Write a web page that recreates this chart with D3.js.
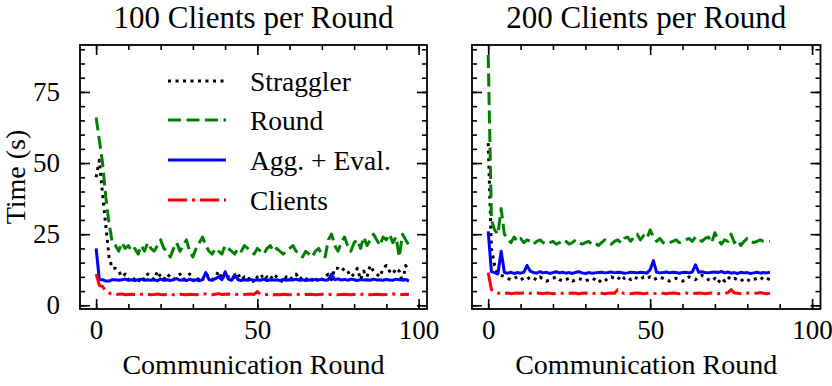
<!DOCTYPE html>
<html>
<head>
<meta charset="utf-8">
<script src="https://cdn.jsdelivr.net/npm/d3@7"></script>
<style>
  body { margin: 0; background: #fff; }
  svg { font-family: "Liberation Serif", "DejaVu Serif", serif; }
</style>
</head>
<body>
<svg id="chart" width="832" height="386"></svg>
<script>
// ---- data ----
const panelTitles = ["100 Clients per Round", "200 Clients per Round"];
const seriesNames = ["Straggler", "Round", "Agg. + Eval.", "Clients"];
const xTicks = [0, 50, 100];
const yTicks = [0, 25, 50, 75];

// 100 clients per round (rounds 0..97)
const straggler100 = [45, 51, 39, 28, 17, 13,
  13, 12, 10, 11, 9, 10, 9, 8, 10, 9,
  11, 10, 9, 12, 10, 9, 11, 10, 9, 10,
  11, 9, 10, 11, 9, 8, 10, 9, 11, 10,
  9, 10, 12, 9, 11, 10, 9, 10, 11, 9,
  10, 9, 10, 8, 10, 11, 9, 10, 9, 11,
  10, 9, 8, 10, 9, 10, 11, 9, 10, 9,
  10, 9, 8, 10, 9, 10, 11, 9, 13, 13,
  12, 13, 12, 10, 11, 13, 9, 12, 10, 14,
  12, 11, 10, 13, 14, 12, 11, 13, 12, 8, 14, 12];
const round100 = [66, 58, 50, 38, 29, 22,
  21, 19, 22, 20, 21, 19, 20, 18, 21, 19,
  22, 20, 19, 21, 23, 20, 19, 17, 20, 22,
  19, 21, 23, 19, 17, 20, 22, 24, 21, 19,
  18, 20, 19, 18, 21, 20, 19, 18, 20, 19,
  21, 20, 19, 18, 20, 19, 18, 20, 21, 19,
  20, 19, 18, 19, 20, 21, 19, 18, 17, 19,
  18, 17, 19, 20, 18, 17, 23, 25, 21, 19,
  22, 24, 21, 19, 22, 23, 20, 24, 21, 23,
  25, 23, 21, 24, 23, 25, 22, 24, 17, 25, 23, 21];
const aggEval100 = [20, 9, 9, 8.5, 8.5, 9,
  9, 8.8, 9, 9.2, 8.8, 9, 8.7, 9, 9.2, 8.8,
  9, 8.8, 9, 8.6, 9.3, 8.8, 9, 8.7, 9, 9.4,
  8.8, 9, 8.7, 9.2, 8.8, 9, 8.6, 9, 11.5, 9,
  8.8, 9.4, 10, 9, 11.8, 9.2, 8.8, 10.8, 9, 8.7,
  9, 8.8, 9.1, 8.7, 9, 8.8, 9.2, 8.7, 9, 8.9,
  9, 8.7, 9.1, 8.8, 9, 8.9, 9.2, 8.8, 9, 8.7,
  9, 8.8, 9.1, 8.9, 9.2, 8.8, 9, 11, 9, 9.3,
  8.9, 9.1, 8.8, 9.2, 9, 8.7, 9.1, 8.9, 9, 8.8,
  9.2, 8.9, 9, 8.8, 9.1, 8.9, 8.8, 9.2, 9, 8.9, 9.1, 8.5];
const clients100 = [11, 7, 6.6, 5, 4.3, 4,
  3.8, 3.9, 4, 3.7, 3.8, 3.9, 3.8, 3.7, 3.9, 3.8,
  3.9, 3.7, 3.8, 4, 3.8, 3.7, 3.9, 3.8, 3.7, 3.8,
  3.9, 3.8, 3.7, 3.9, 3.8, 3.7, 3.8, 3.9, 4, 3.8,
  3.7, 3.9, 4.1, 3.8, 3.9, 4, 3.8, 3.9, 3.8, 3.7,
  3.8, 3.9, 4, 3.8, 4.8, 3.8, 3.7, 3.8, 3.9, 3.7,
  3.8, 3.7, 3.9, 3.8, 3.7, 3.8, 3.9, 3.8, 3.7, 3.8,
  3.9, 3.8, 3.7, 3.8, 3.9, 3.8, 3.7, 3.9, 3.8, 3.7,
  3.8, 3.9, 3.8, 3.7, 3.8, 3.9, 3.8, 4, 3.8, 3.7,
  3.8, 3.9, 3.8, 3.7, 3.8, 3.9, 4, 3.8, 3.7, 3.8, 3.9, 3.8];

// 200 clients per round (rounds 0..87)
const straggler200 = [57, 20, 14, 11, 10.5, 10, 9.5, 9, 9.5, 10,
  9, 9.5, 10, 9, 9.5, 9, 10, 9, 8.5, 9,
  9.5, 10, 9, 8.5, 9, 9.5, 8.5, 9, 9.5, 9,
  8.5, 9, 9.5, 9, 8, 9, 8.5, 9.5, 10, 9.5,
  9, 10.5, 9.5, 10, 9, 10, 9.5, 9, 10, 9.5,
  10, 9, 9.5, 10, 9.5, 9, 8.5, 9, 9.5, 9,
  8.5, 9, 10, 9.5, 9, 10, 10.5, 10, 9, 8.5,
  9.5, 8, 9.5, 8.5, 10, 9, 9.5, 9, 8.5, 9.5,
  9, 8.5, 9, 9.5, 10, 9, 9.5, 9];
const round200 = [88, 30, 26.5, 25, 34, 25, 23.5, 22, 24, 22.5,
  23.5, 22, 23, 22.5, 21.5, 22.5, 23, 22, 21.5, 22,
  22.5, 21.5, 22, 23, 22.5, 21.5, 22, 23, 22, 21.5,
  22, 22.5, 21.5, 22, 21, 22, 23, 22.5, 21.5, 22.5,
  23, 22, 23.5, 24, 22.5, 24, 25, 23, 24.5, 23.5,
  26.5, 24, 22.5, 23.5, 22, 21.5, 22, 22.5, 23, 22,
  22.5, 23, 23.5, 22.5, 24, 23, 22.5, 23.5, 24, 22,
  25.5, 23, 21.5, 23, 22.5, 25, 22, 23, 21, 22.5,
  23.5, 22.5, 22, 22.5, 23, 22.5, 22.5, 22.5];
const aggEval200 = [26, 11.8, 11.5, 11, 19, 11.5, 11.3, 11.6, 11.2, 11.5,
  11.3, 11.6, 14, 12, 11.5, 11.3, 11.8, 11.4, 11.6, 11.2,
  11.5, 11.8, 11.4, 11.6, 11.3, 11.5, 11.2, 11.6, 11.8, 11.4,
  11.2, 11.5, 11.3, 11.4, 11.5, 11.6, 11.4, 11.5, 11.7, 11.4,
  11.6, 11.5, 11.3, 11.4, 11.6, 11.5, 11.4, 11.6, 11.5, 11.3,
  12.5, 15.7, 11.6, 11.4, 11.5, 11.7, 11.4, 11.6, 11.5, 11.3,
  11.5, 11.6, 11.4, 11.7, 14.2, 11.6, 11.8, 11.5, 11.4, 11.6,
  11.7, 11.5, 11.9, 11.4, 11.7, 11.3, 11.5, 11.2, 11.6, 11.4,
  11.5, 11.2, 11.4, 11.6, 11.3, 11.5, 11.4, 11.6];
const clients200 = [11.5, 5.5, 4.8, 4.3, 4, 4.2, 4.3, 4.1, 4.2, 4.3,
  4.2, 4.3, 4.1, 4.2, 4.4, 4.3, 4.2, 4.1, 4.3, 4.2,
  4.1, 4.2, 4.3, 4.2, 4.1, 4.2, 4.3, 4.2, 4.1, 4.2,
  4.3, 4.2, 4.1, 4.2, 4.3, 4.2, 4.1, 4.2, 4.3, 4.2,
  5.5, 4.5, 4.2, 4.3, 4.1, 4.2, 4.3, 4.2, 4.1, 4.2,
  4.3, 4.2, 4.1, 4.3, 4.2, 4.1, 4.2, 4.3, 4.2, 4.1,
  4.2, 4.3, 4.2, 4.1, 4.2, 4.3, 4.2, 4.1, 4.2, 4.3,
  4.2, 4.1, 4.2, 4.3, 4.4, 5.5, 4.3, 4.2, 4.1, 4.2,
  4.3, 4.2, 4.4, 4.2, 4.5, 4.2, 4.1, 4.2];

// ---- styling ----
const colors = ["#000000", "#008000", "#0000ff", "#ff0000"];
const dashes = ["3,4.5", "13,5.5", null, "19,5,3,5"];
const lineW = 3;

const plotTop = 45, plotBottom = 309;
const panels = [
  { left: 80, right: 427, data: [straggler100, round100, aggEval100, clients100], labels: true },
  { left: 472, right: 820.5, data: [straggler200, round200, aggEval200, clients200], labels: false }
];

const svg = d3.select("#chart");

const yScale = d3.scaleLinear().domain([-1.3, 91.5]).range([plotBottom, plotTop]);
const yMinor = d3.range(0, 95, 5);
const xMinor = d3.range(0, 101, 10);

panels.forEach((p, pi) => {
  const xScale = d3.scaleLinear().domain([-5, 102.6]).range([p.left, p.right]);
  const g = svg.append("g");

  // lines
  p.data.forEach((vals, si) => {
    const line = d3.line()
      .x((d, i) => xScale(i))
      .y(d => yScale(d));
    g.append("path")
      .datum(vals)
      .attr("d", line)
      .attr("fill", "none")
      .attr("stroke", colors[si])
      .attr("stroke-width", lineW)
      .attr("stroke-linejoin", "round")
      .attr("stroke-dasharray", dashes[si]);
  });

  // inward ticks on all four sides
  const addAxis = (axis, tr) => {
    const a = g.append("g").attr("transform", tr).call(axis);
    a.select(".domain").remove();
    a.selectAll(".tick line").attr("stroke", "#000").attr("stroke-width", 1.6);
    return a;
  };
  const bx = addAxis(d3.axisBottom(xScale).tickValues(xTicks).tickSize(-10).tickPadding(11), `translate(0,${plotBottom})`);
  bx.selectAll("text").attr("font-size", 27).attr("fill", "#000")
    .attr("font-family", "Liberation Serif");
  addAxis(d3.axisBottom(xScale).tickValues(xMinor).tickSize(-5).tickFormat(""), `translate(0,${plotBottom})`);
  addAxis(d3.axisTop(xScale).tickValues(xTicks).tickSize(-10).tickFormat(""), `translate(0,${plotTop})`);
  addAxis(d3.axisTop(xScale).tickValues(xMinor).tickSize(-5).tickFormat(""), `translate(0,${plotTop})`);

  const ly = addAxis(d3.axisLeft(yScale).tickValues(yTicks).tickSize(-10).tickPadding(20)
    .tickFormat(p.labels ? d3.format("d") : ""), `translate(${p.left},0)`);
  ly.selectAll("text").attr("font-size", 27).attr("fill", "#000")
    .attr("font-family", "Liberation Serif");
  addAxis(d3.axisLeft(yScale).tickValues(yMinor).tickSize(-5).tickFormat(""), `translate(${p.left},0)`);
  addAxis(d3.axisRight(yScale).tickValues(yTicks).tickSize(-10).tickFormat(""), `translate(${p.right},0)`);
  addAxis(d3.axisRight(yScale).tickValues(yMinor).tickSize(-5).tickFormat(""), `translate(${p.right},0)`);

  // frame
  g.append("rect")
    .attr("x", p.left).attr("y", plotTop)
    .attr("width", p.right - p.left).attr("height", plotBottom - plotTop)
    .attr("fill", "none").attr("stroke", "#000").attr("stroke-width", 1.8);

  const cx = (p.left + p.right) / 2;
  g.append("text").attr("x", cx).attr("y", 28)
    .attr("text-anchor", "middle").attr("font-size", 31)
    .text(panelTitles[pi]);
  g.append("text").attr("x", cx).attr("y", 374)
    .attr("text-anchor", "middle").attr("font-size", 28)
    .text("Communication Round");

  if (pi === 0) {
    g.append("text")
      .attr("transform", `translate(25,${(plotTop + plotBottom) / 2}) rotate(-90)`)
      .attr("text-anchor", "middle").attr("font-size", 28)
      .text("Time (s)");

    // legend
    const legY = [82, 121, 161, 201];
    seriesNames.forEach((name, si) => {
      g.append("line")
        .attr("x1", 168).attr("x2", 226)
        .attr("y1", legY[si] - 1).attr("y2", legY[si] - 1)
        .attr("stroke", colors[si]).attr("stroke-width", lineW)
        .attr("stroke-dasharray", dashes[si]);
      g.append("text")
        .attr("x", 250).attr("y", legY[si] + 9)
        .attr("font-size", 27.5)
        .text(name);
    });
  }
});
</script>
</body>
</html>
